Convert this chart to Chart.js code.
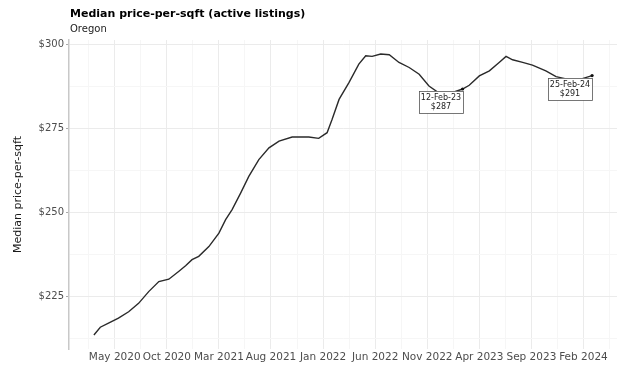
<!DOCTYPE html>
<html>
<head>
<meta charset="utf-8">
<script src="https://cdn.jsdelivr.net/npm/chart.js@4/dist/chart.umd.min.js"></script>
<style>
  html, body { margin: 0; padding: 0; background: #ffffff; }
  #wrap { width: 626px; height: 367px; position: relative; }
</style>
</head>
<body>
<div id="wrap"><canvas id="c" width="626" height="367"></canvas></div>
<script>
// ---- Data ----
const titleText = "Median price-per-sqft (active listings)";
const subtitleText = "Oregon";
const yAxisTitle = "Median price-per-sqft";

const dates = [
  "2020-03-01","2020-03-20","2020-04-13","2020-05-12","2020-06-11","2020-07-10",
  "2020-08-09","2020-09-08","2020-10-07","2020-11-05","2020-11-25","2020-12-14",
  "2021-01-03","2021-02-02","2021-03-01","2021-03-21","2021-04-09","2021-05-04",
  "2021-05-28","2021-06-26","2021-07-26","2021-08-25","2021-10-02","2021-11-20",
  "2021-12-19","2022-01-13","2022-01-28","2022-02-16","2022-03-16","2022-04-14",
  "2022-05-04","2022-05-23","2022-06-17","2022-07-12","2022-08-10","2022-09-09",
  "2022-10-08","2022-11-06","2022-12-01","2023-01-04","2023-02-12","2023-03-02",
  "2023-04-01","2023-04-30","2023-05-29","2023-06-18","2023-07-07","2023-08-06",
  "2023-09-04","2023-10-13","2023-11-12","2023-12-11","2024-01-19","2024-02-25"
];
const prices = [
  213.6,215.9,217.1,218.6,220.5,223.0,
  226.5,229.5,230.2,232.5,234.2,236.0,
  237.0,239.9,243.9,247.9,250.9,255.9,
  260.8,265.8,269.3,271.3,272.5,272.5,
  272.1,273.8,277.8,283.7,288.7,294.2,
  296.7,296.5,297.2,297.0,294.7,293.2,
  291.2,287.7,285.9,285.4,286.8,287.9,
  290.7,292.2,294.7,296.5,295.5,294.7,
  293.9,292.2,290.5,289.8,289.6,290.8
];
const annotatedDates = ["2023-02-12","2024-02-25"];

const xTickDates  = ["2020-05-01","2020-10-01","2021-03-01","2021-08-01","2022-01-01","2022-06-01","2022-11-01","2023-04-01","2023-09-01","2024-02-01"];
const xTickLabels = ["May 2020","Oct 2020","Mar 2021","Aug 2021","Jan 2022","Jun 2022","Nov 2022","Apr 2023","Sep 2023","Feb 2024"];
const yTickValues = [225, 250, 275, 300];
const yTickLabels = ["$225","$250","$275","$300"];

// ---- helpers ----
const MON = ["Jan","Feb","Mar","Apr","May","Jun","Jul","Aug","Sep","Oct","Nov","Dec"];
function toMonths(s) { // months since 2020-01-01 (fractional)
  const [y, m, d] = s.split("-").map(Number);
  const dim = new Date(y, m, 0).getDate();
  return (y - 2020) * 12 + (m - 1) + (d - 1) / dim;
}
function fmtDate(s) {
  const [y, m, d] = s.split("-").map(Number);
  return String(d).padStart(2, "0") + "-" + MON[m - 1] + "-" + String(y).slice(2);
}
function expand(vals) {
  const lo = Math.min(...vals), hi = Math.max(...vals), e = (hi - lo) * 0.05;
  return [lo - e, hi + e];
}

const xs = dates.map(toMonths);
const points = xs.map((x, i) => ({ x, y: prices[i] }));
const [xMin, xMax] = expand(xs);
const [yMin, yMax] = expand(prices);

const xMajor = xTickDates.map(toMonths);
const xStep = xMajor[1] - xMajor[0];
const xAll = [];
for (let v = xMajor[0] - xStep / 2; v >= xMin; v -= xStep) xAll.push({ v, major: false });
xMajor.forEach((v, i) => { xAll.push({ v, major: true, label: xTickLabels[i] }); if (i < xMajor.length - 1) xAll.push({ v: v + xStep / 2, major: false }); });
for (let v = xMajor[xMajor.length - 1] + xStep / 2; v <= xMax; v += xStep) xAll.push({ v, major: false });

const yStep = yTickValues[1] - yTickValues[0];
const yAll = [];
for (let v = yTickValues[0] - yStep / 2; v >= yMin; v -= yStep) yAll.push({ v, major: false });
yTickValues.forEach((v, i) => { yAll.push({ v, major: true, label: yTickLabels[i] }); if (i < yTickValues.length - 1) yAll.push({ v: v + yStep / 2, major: false }); });
for (let v = yTickValues[yTickValues.length - 1] + yStep / 2; v <= yMax; v += yStep) yAll.push({ v, major: false });

function findTick(arr, value) { return arr.find(t => Math.abs(t.v - value) < 1e-6); }

const FONT = "'DejaVu Sans', sans-serif";

const titlePlugin = {
  id: "titles",
  afterDraw(chart) {
    const { ctx, chartArea } = chart;
    ctx.save();
    ctx.textAlign = "left";
    ctx.textBaseline = "middle";
    ctx.fillStyle = "#000";
    ctx.font = "bold 11px " + FONT;
    ctx.fillText(titleText, chartArea.left + 1, 14);
    ctx.fillStyle = "#222";
    ctx.font = "10px " + FONT;
    ctx.fillText(subtitleText, chartArea.left + 1, 29);
    ctx.restore();
  }
};

const annotationPlugin = {
  id: "annots",
  afterDatasetsDraw(chart) {
    const { ctx } = chart;
    const meta = chart.getDatasetMeta(0);
    ctx.save();
    annotatedDates.forEach(ds => {
      const i = dates.indexOf(ds);
      if (i < 0) return;
      const p = meta.data[i];
      const lines = [fmtDate(ds), "$" + Math.round(prices[i])];
      ctx.font = "8px " + FONT;
      const w = 44, h = 22;
      const bx = Math.round(p.x - w), by = Math.round(p.y + 2);
      ctx.fillStyle = "#fff";
      ctx.fillRect(bx, by, w, h);
      ctx.strokeStyle = "#555";
      ctx.lineWidth = 0.8;
      ctx.strokeRect(bx + 0.5, by + 0.5, w, h);
      ctx.fillStyle = "#222";
      ctx.textAlign = "center";
      ctx.textBaseline = "middle";
      ctx.fillText(lines[0], bx + w / 2, by + 6.5);
      ctx.fillText(lines[1], bx + w / 2, by + 16);
      ctx.beginPath();
      ctx.arc(p.x, p.y, 1.6, 0, Math.PI * 2);
      ctx.fillStyle = "#111";
      ctx.fill();
    });
    ctx.restore();
  }
};

new Chart(document.getElementById("c"), {
  type: "line",
  data: {
    datasets: [{
      data: points,
      borderColor: "#2a2a2a",
      borderWidth: 1.4,
      pointRadius: 0,
      tension: 0,
      fill: false
    }]
  },
  options: {
    responsive: false,
    animation: false,
    events: [],
    layout: { padding: { left: 4, right: 9, top: 40, bottom: 0 } },
    plugins: { legend: { display: false }, tooltip: { enabled: false }, title: { display: false } },
    scales: {
      x: {
        type: "linear",
        min: xMin, max: xMax,
        afterBuildTicks: s => { s.ticks = xAll.map(t => ({ value: t.v })); },
        afterFit: s => { s.height = 18; },
        ticks: {
          autoSkip: false, maxRotation: 0, minRotation: 0,
          padding: 2,
          color: "#4d4d4d",
          font: { family: FONT, size: 10.5 },
          callback: v => { const t = findTick(xAll, v); return t && t.major ? t.label : ""; }
        },
        grid: {
          drawTicks: false,
          color: c => { const t = findTick(xAll, c.tick && c.tick.value); return t && t.major ? "#ebebeb" : "#f6f6f6"; },
          lineWidth: 1
        },
        border: { display: false }
      },
      y: {
        type: "linear",
        min: yMin, max: yMax,
        afterBuildTicks: s => { s.ticks = yAll.map(t => ({ value: t.v })); },
        afterFit: s => { s.width = 65; },
        ticks: {
          padding: 2,
          color: "#4d4d4d",
          font: { family: FONT, size: 10 },
          callback: v => { const t = findTick(yAll, v); return t && t.major ? t.label : ""; }
        },
        grid: {
          drawTicks: true,
          tickLength: 3,
          color: c => { const t = findTick(yAll, c.tick && c.tick.value); return t && t.major ? "#ebebeb" : "#f6f6f6"; },
          tickColor: c => { const t = findTick(yAll, c.tick && c.tick.value); return t && t.major ? "#aaa" : "rgba(0,0,0,0)"; }
        },
        border: { display: true, color: "#c8c8c8", width: 1.5 },
        title: {
          display: true,
          text: yAxisTitle,
          color: "#1a1a1a",
          font: { family: FONT, size: 11 },
          padding: { top: 8, bottom: 0 }
        }
      }
    }
  },
  plugins: [titlePlugin, annotationPlugin]
});
</script>
</body>
</html>
